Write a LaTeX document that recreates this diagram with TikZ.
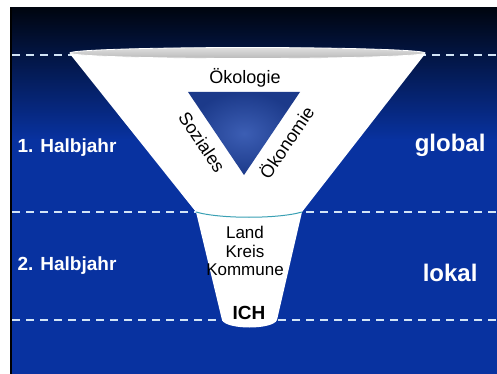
\documentclass[tikz,border=0pt]{standalone}
\usepackage{fontspec}
\setmainfont{Liberation Sans}
\definecolor{bgtop}{HTML}{000510}
\definecolor{bgblue}{HTML}{0832A0}
\definecolor{dashcol}{HTML}{D2E4F6}
\definecolor{rimteal}{HTML}{3AA0B4}
\definecolor{tricore}{HTML}{3C5EB4}
\definecolor{triedge}{HTML}{1C3A8A}

\begin{document}
\begin{tikzpicture}[x=1pt, y=-1pt, node distance=19pt, levelline/.style={draw=dashcol, line width=2.2pt, dash pattern=on 8pt off 6pt}, sidelabel/.style={text=white, font=\fontsize{19}{22}\selectfont\bfseries}, scopelabel/.style={text=white, font=\fontsize{24}{28}\selectfont\bfseries}, pillar/.style={text=black, font=\fontsize{18}{21}\selectfont, inner sep=0pt}, level/.style={text=black, font=\fontsize{17}{20}\selectfont, inner sep=0pt}]

  \useasboundingbox (0,0) rectangle (497,374);
  \fill[white] (0,0) rectangle (497,374);
  \shade[top color=bgtop, bottom color=bgblue] (10,8) rectangle (497,140);
  \fill[bgblue] (10,139) rectangle (497,374);
  \draw[black, line width=1.5pt] (10.75,8) -- (10.75,374);

  % Trennlinien
  \foreach \y in {55,212,320}
    \draw[levelline] (12,\y) -- (497,\y);

  % Trichter
  \fill[white] (70,54) -- (196,212) -- (222,320) .. controls (226,330) and (273,330) .. (277,320) -- (302,212) -- (425,54) -- cycle;
  \shade[top color=gray!25, bottom color=gray!55, draw=white, line width=0.8pt] (247.5,53) ellipse (177.5 and 5.5);
  \draw[rimteal, line width=1pt] (196,212) .. controls (220,219) and (278,219) .. (302,212);

  \shade[inner color=tricore, outer color=triedge] (188,92) -- (300,92) -- (244,175) -- cycle;

  \node[pillar] (oeko) at (245,78) {Ökologie};
  \node[pillar, rotate=-56] (sozial) at (202,142) {Soziales};
  \node[pillar, rotate=56] (oekon) at (286,142) {Ökonomie};

  \node[level] (land) at (245,232) {Land};
  \node[level, below of=land] (kreis) {Kreis};
  \node[level, below of=kreis] (kommune) {Kommune};
  \node[level, font=\fontsize{19}{22}\selectfont\bfseries] (ich) at (249,313) {ICH};

  % Beschriftung
  \node[sidelabel, anchor=west] (halb1) at (14,148) {1. Halbjahr};
  \node[sidelabel, anchor=west] (halb2) at (14,266) {2. Halbjahr};
  \node[scopelabel, anchor=east] (global) at (489,145) {global};
  \node[scopelabel, anchor=east] (lokal) at (481,273) {lokal};
\end{tikzpicture}
\end{document}
